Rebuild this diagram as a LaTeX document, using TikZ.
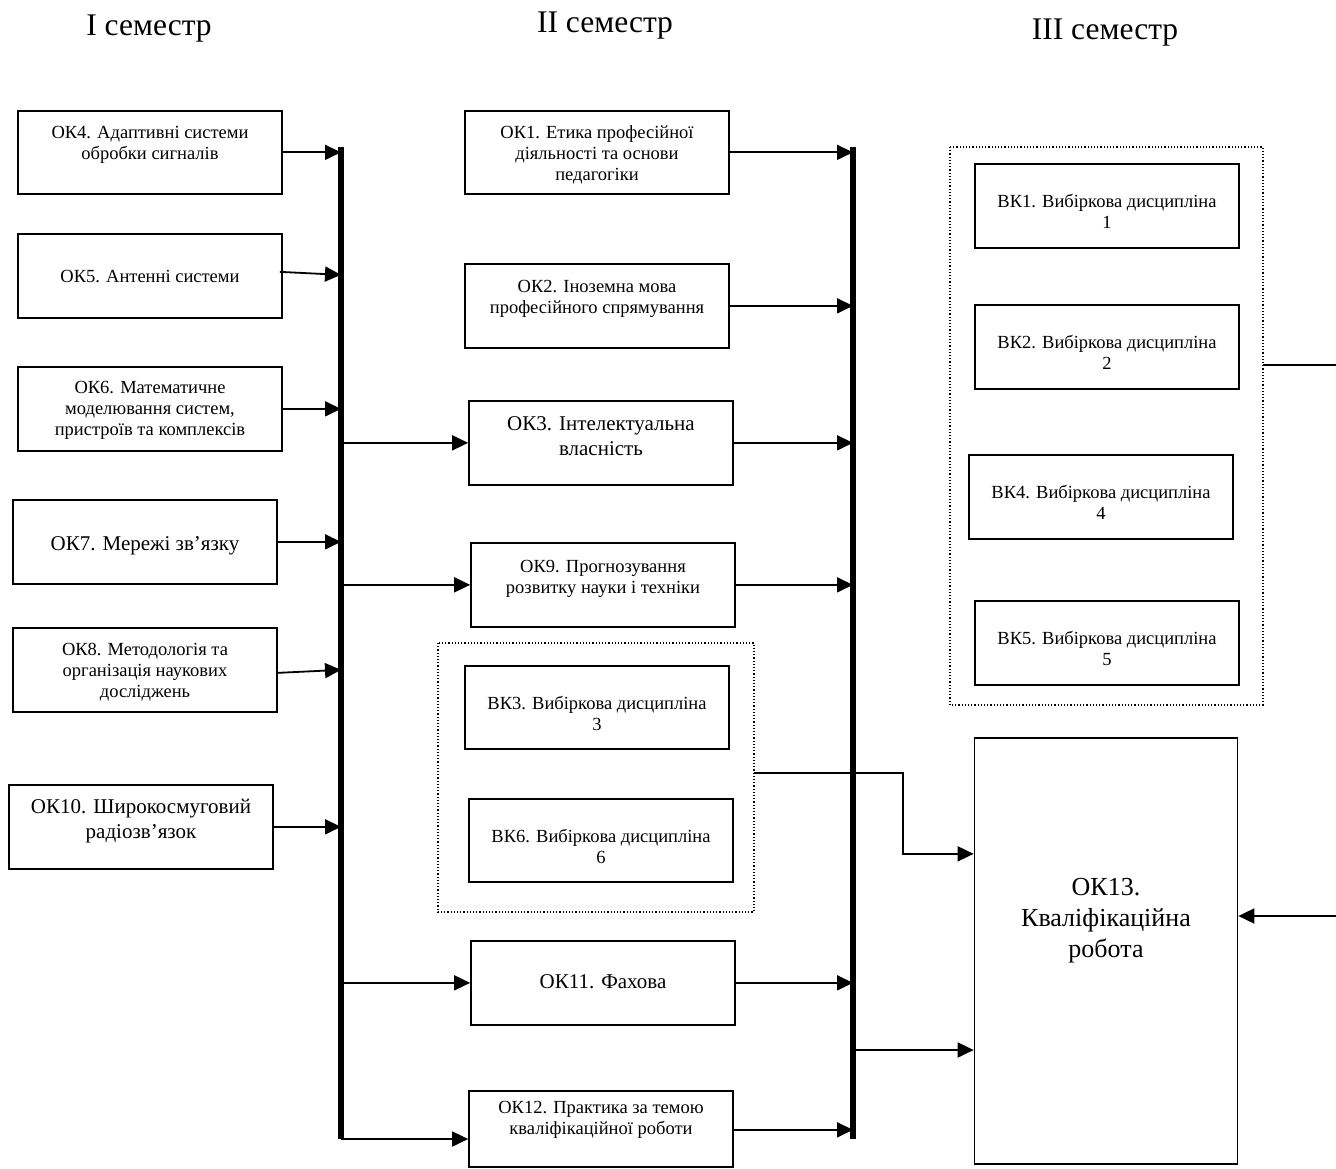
\documentclass[tikz,border=0pt]{standalone}
\usepackage{fontspec}
\setmainfont{Liberation Serif}
\usetikzlibrary{arrows.meta}

\tikzset{
  subj/.style = {draw, line width=1.7pt, rectangle, minimum width=264pt,
    inner xsep=3pt, inner ysep=0pt, align=center, font=\fontsize{18.5}{21}\selectfont},
  bigsubj/.style = {subj, font=\fontsize{21}{24.5}\selectfont},
  tx/.style 2 args = {text height=#1pt, text depth=#2pt},
  grp/.style = {draw, dotted, line width=1.2pt},
  bus/.style = {line width=6pt},
  arr/.style = {line width=1.8pt, -{Triangle[length=16pt,width=15pt]}},
  sem/.style = {anchor=base, font=\fontsize{31.5}{36}\selectfont}
}

\begin{document}
\begin{tikzpicture}[x=1pt, y=-1pt]
\useasboundingbox (0,0) rectangle (1336,1168);

% semesters
\node[sem] (s1) at (149,35) {I семестр};
\node[sem] (s2) at (605,32) {II семестр};
\node[sem] (s3) at (1105,39) {III семестр};

% I semester
\node[subj, tx={49}{34}, anchor=north] (ok4) at (150,110) {ОК4. Адаптивні системи\\обробки сигналів};
\node[subj, tx={49}{35}, anchor=north] (ok5) at (150,233) {ОК5. Антенні системи};
\node[subj, tx={69}{15}, anchor=north] (ok6) at (150,366) {ОК6. Математичне\\моделювання систем,\\пристроїв та комплексів};
\node[bigsubj, tx={51}{33}, anchor=north] (ok7) at (145,499) {ОК7. Мережі зв’язку};
\node[subj, tx={70}{14}, anchor=north] (ok8) at (145,627) {ОК8. Методологія та\\організація наукових\\досліджень};
\node[bigsubj, tx={53.5}{30.5}, anchor=north] (ok10) at (141,784) {ОК10. Широкосмуговий\\радіозв’язок};

% II semester
\node[subj, tx={70}{13}, anchor=north] (ok1) at (597,110) {ОК1. Етика професійної\\діяльності та основи\\педагогіки};
\node[subj, tx={50}{34}, anchor=north] (ok2) at (597,263) {ОК2. Іноземна мова\\професійного спрямування};
\node[bigsubj, tx={54.5}{29.5}, anchor=north] (ok3) at (601,400) {ОК3. Інтелектуальна\\власність};
\node[subj, tx={51}{33}, anchor=north] (ok9) at (603,542) {ОК9. Прогнозування\\розвитку науки і техніки};
\node[subj, tx={65}{18}, anchor=north] (vk3) at (597,665) {ВК3. Вибіркова дисципліна\\3};
\node[subj, tx={65}{18}, anchor=north] (vk6) at (601,798) {ВК6. Вибіркова дисципліна\\6};
\node[bigsubj, tx={48}{36}, anchor=north] (ok11) at (603,940) {ОК11. Фахова};
\node[subj, tx={44}{32}, anchor=north] (ok12) at (601,1090) {ОК12. Практика за темою\\кваліфікаційної роботи};
\draw[grp] (438,643) rectangle (754,912);
\coordinate (grp2) at (754,773);

% III semester
\node[subj, tx={65}{19}, anchor=north] (vk1) at (1107,163) {ВК1. Вибіркова дисципліна\\1};
\node[subj, tx={65}{19}, anchor=north] (vk2) at (1107,304) {ВК2. Вибіркова дисципліна\\2};
\node[subj, tx={65}{19}, anchor=north] (vk4) at (1101,454) {ВК4. Вибіркова дисципліна\\4};
\node[subj, tx={65}{19}, anchor=north] (vk5) at (1107,600) {ВК5. Вибіркова дисципліна\\5};
\draw[grp] (950,147) rectangle (1263,705);
\coordinate (grp3) at (1263,365);
\node[subj, minimum width=263pt, tx={220}{206}, anchor=north, font=\fontsize{26}{31}\selectfont]
  (ok13) at (1106,737) {ОК13.\\Кваліфікаційна\\робота};

% buses
\coordinate (b1t) at (341,147);
\coordinate (b1b) at (341,1139);
\coordinate (b2t) at (853,147);
\coordinate (b2b) at (853,1139);
\draw[bus] (b1t) -- (b1b);
\draw[bus] (b2t) -- (b2b);

% into bus 1
\foreach \n in {ok4, ok6, ok7, ok10}
  \draw[arr] (\n.east) -- (\n.east -| b1t);
\draw[arr] ([xshift=-3pt,yshift=4pt]ok5.east) -- ([yshift=1pt]ok5.east -| b1t);
\draw[arr] ([yshift=-3pt]ok8.east) -- (ok8.east -| b1t);

% from bus 1
\draw[arr] (b1t |- ok3.west) -- (ok3.west);
\draw[arr] (b1t |- ok9.west) -- (ok9.west);
\draw[arr] (b1t |- ok11.west) -- (ok11.west);
\draw[arr] (b1b) -- (ok12.west |- b1b);

% into bus 2
\foreach \n in {ok1, ok2, ok3, ok9, ok11}
  \draw[arr] (\n.east) -- (\n.east -| b2t);
\draw[arr] ([yshift=-1pt]ok12.east) -- ([yshift=-1pt]ok12.east -| b2t);

% to the final work
\draw[arr] (grp2) -- ++(149,0) |- ([yshift=97pt]ok13.west);
\draw[arr] (b2t |- 0,1050) -- (ok13.west |- 0,1050);
\coordinate (r1) at (1336,365);
\coordinate (r2) at (1336,916);
\draw[line width=1.8pt] (grp3) -- (r1);
\draw[arr] (r2) -- (ok13.east |- r2);

\end{tikzpicture}
\end{document}
